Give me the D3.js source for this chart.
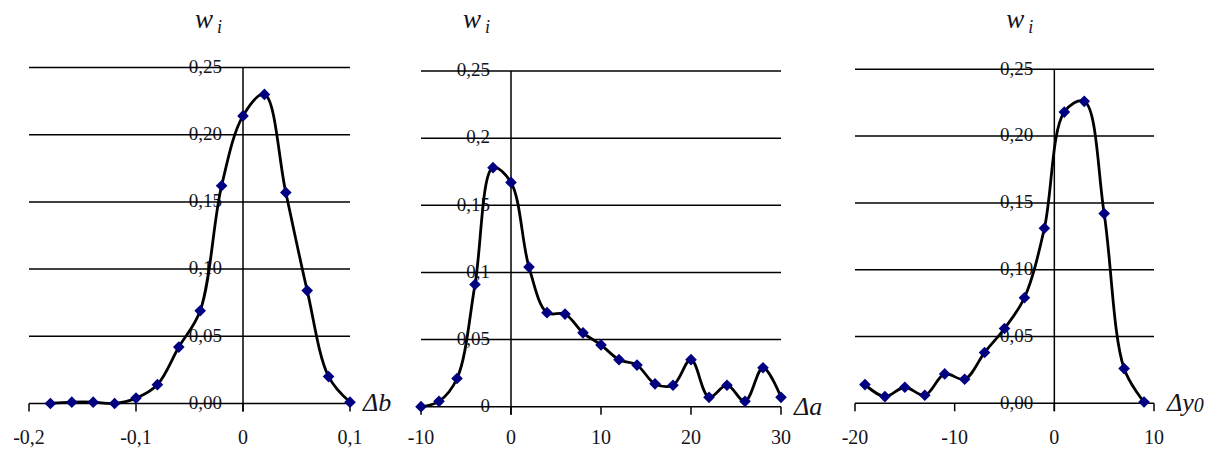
<!DOCTYPE html>
<html>
<head>
<meta charset="utf-8">
<script src="https://cdn.jsdelivr.net/npm/d3@7"></script>
<style>
  body { margin: 0; background: #fff; }
  svg { display: block; }
  text { font-family: "Liberation Serif", "Times New Roman", serif; fill: #141420; }
</style>
</head>
<body>
<div id="chart"></div>
<script>
// data
const bX = [-0.18, -0.16, -0.14, -0.12, -0.10, -0.08, -0.06, -0.04, -0.02, 0.00, 0.02, 0.04, 0.06, 0.08, 0.10];
const bW = [0.000, 0.001, 0.001, 0.000, 0.004, 0.014, 0.042, 0.069, 0.162, 0.214, 0.230, 0.157, 0.084, 0.020, 0.001];

const aX = [-10, -8, -6, -4, -2, 0, 2, 4, 6, 8, 10, 12, 14, 16, 18, 20, 22, 24, 26, 28, 30];
const aW = [0.000, 0.004, 0.021, 0.091, 0.178, 0.167, 0.104, 0.070, 0.069, 0.055, 0.046, 0.035, 0.031, 0.017, 0.016, 0.035, 0.007, 0.016, 0.004, 0.029, 0.007];

const yX = [-19, -17, -15, -13, -11, -9, -7, -5, -3, -1, 1, 3, 5, 7, 9];
const yW = [0.014, 0.005, 0.012, 0.006, 0.022, 0.018, 0.038, 0.056, 0.079, 0.131, 0.218, 0.226, 0.142, 0.026, 0.001];

const wTicks = [0, 0.05, 0.10, 0.15, 0.20, 0.25];
const wLabels2 = ["0,00", "0,05", "0,10", "0,15", "0,20", "0,25"];
const wLabelsShort = ["0", "0,05", "0,1", "0,15", "0,2", "0,25"];

const bTicks = [-0.2, -0.1, 0, 0.1];
const bTickLabels = ["-0,2", "-0,1", "0", "0,1"];
const aTicks = [-10, 0, 10, 20, 30];
const aTickLabels = ["-10", "0", "10", "20", "30"];
const yTicks = [-20, -10, 0, 10];
const yTickLabels = ["-20", "-10", "0", "10"];

const width = 1209, height = 452;

const svg = d3.select("#chart")
  .append("svg")
    .attr("width", width)
    .attr("height", height);

// one panel per parameter
const panels = [
  { xs: bX, ws: bW, domain: [-0.2, 0.1], xr: [29, 350], yr: [403.5, 67.5],
    xt: bTicks, xl: bTickLabels, yl: wLabels2, name: "Δb", sub: "" },
  { xs: aX, ws: aW, domain: [-10, 30], xr: [421, 781], yr: [406.7, 71],
    xt: aTicks, xl: aTickLabels, yl: wLabelsShort, name: "Δa", sub: "" },
  { xs: yX, ws: yW, domain: [-20, 10], xr: [855, 1154], yr: [403.3, 69.3],
    xt: yTicks, xl: yTickLabels, yl: wLabels2, name: "Δy", sub: "0" }
];

panels.forEach(function(p) {
  const g = svg.append("g");

  const x = d3.scaleLinear().domain(p.domain).range(p.xr);
  const y = d3.scaleLinear().domain([0, 0.25]).range(p.yr);
  const x0 = x(0);

  // y labels, drawn first so lines sit over them
  g.selectAll(".ylab")
    .data(wTicks)
    .join("text")
      .attr("x", x0 - 21)
      .attr("y", d => y(d) + 1)
      .attr("text-anchor", "end")
      .attr("dominant-baseline", "middle")
      .style("font-size", "19px")
      .text((d, i) => p.yl[i]);

  // horizontal grid
  g.selectAll(".grid")
    .data(wTicks)
    .join("line")
      .attr("x1", p.xr[0])
      .attr("x2", p.xr[1])
      .attr("y1", d => y(d))
      .attr("y2", d => y(d))
      .attr("stroke", "#000")
      .attr("stroke-width", 1.5);

  // vertical axis through zero
  g.append("line")
    .attr("x1", x0).attr("x2", x0)
    .attr("y1", y(0.25)).attr("y2", y(0) + 8)
    .attr("stroke", "#000")
    .attr("stroke-width", 1.5);

  // x ticks
  g.selectAll(".xtick")
    .data(p.xt)
    .join("line")
      .attr("x1", d => x(d)).attr("x2", d => x(d))
      .attr("y1", y(0)).attr("y2", y(0) + 8)
      .attr("stroke", "#000")
      .attr("stroke-width", 1.5);

  g.selectAll(".xlab")
    .data(p.xt)
    .join("text")
      .attr("x", d => x(d))
      .attr("y", 439)
      .attr("text-anchor", "middle")
      .attr("dominant-baseline", "middle")
      .style("font-size", "20px")
      .text((d, i) => p.xl[i]);

  // smoothed line like the spreadsheet one
  const pts = p.xs.map((v, i) => [v, p.ws[i]]);
  const line = d3.line()
    .x(d => x(d[0]))
    .y(d => y(d[1]))
    .curve(d3.curveCatmullRom.alpha(0.5));

  g.append("path")
    .datum(pts)
    .attr("d", line)
    .attr("fill", "none")
    .attr("stroke", "#000")
    .attr("stroke-width", 2.8)
    .attr("stroke-linejoin", "round");

  // diamond markers
  g.selectAll(".pt")
    .data(pts)
    .join("path")
      .attr("d", d3.symbol(d3.symbolSquare, 68))
      .attr("transform", d => `translate(${x(d[0])},${y(d[1])}) rotate(45)`)
      .attr("fill", "#000080");

  // title w_i
  const t = g.append("text")
    .attr("x", x0 - 48)
    .attr("y", 28)
    .style("font-size", "27px")
    .style("font-style", "italic");
  t.append("tspan").text("w");
  t.append("tspan").attr("dx", 4).attr("dy", 5).style("font-size", "18px").text("i");

  // axis name
  const n = g.append("text")
    .attr("x", p.xr[1] + 13)
    .attr("y", y(0) + 2)
    .attr("dominant-baseline", "middle")
    .style("font-size", "26px")
    .style("font-style", "italic")
    .text(p.name);
  if (p.sub) n.append("tspan").attr("dy", 2).style("font-size", "20px").text(p.sub);
});
</script>
</body>
</html>
